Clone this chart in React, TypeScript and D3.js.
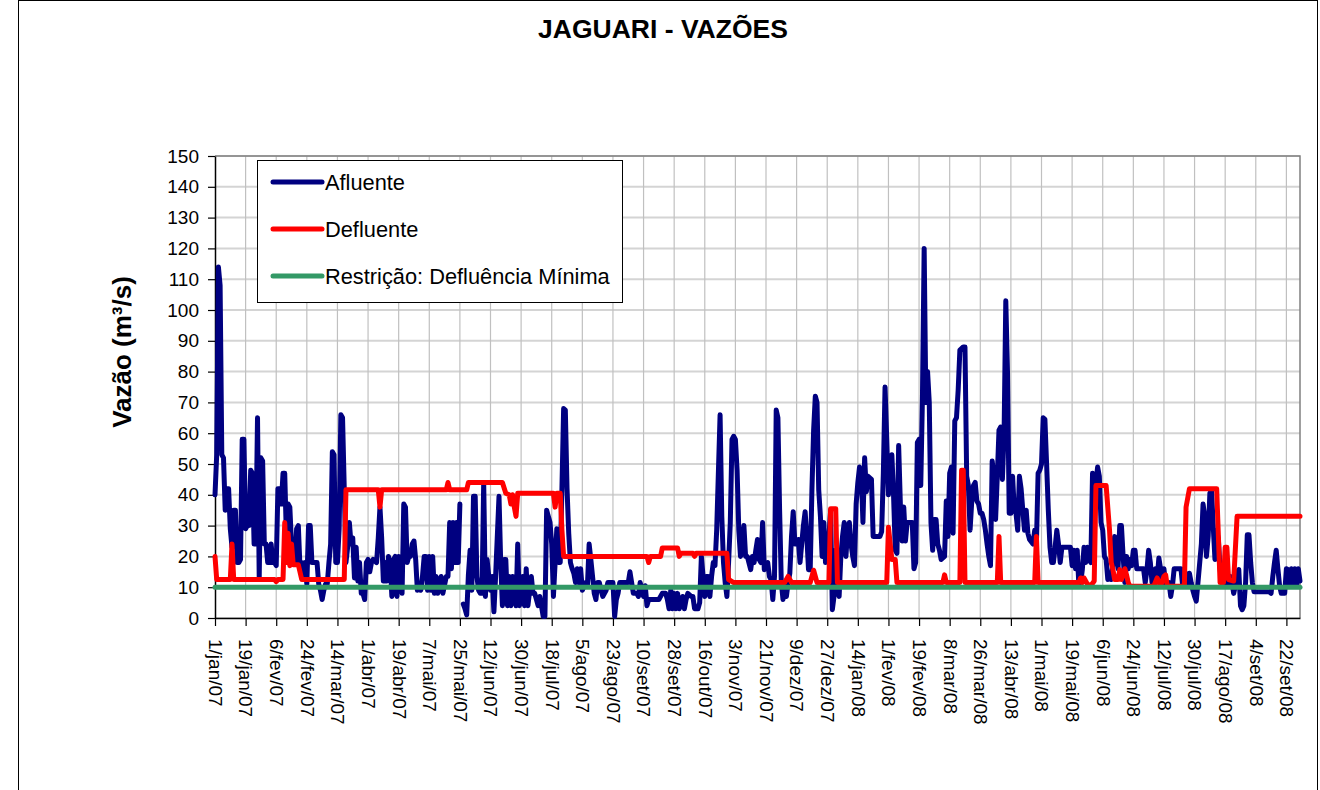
import { useEffect, useRef } from "react";
import { axisBottom, axisLeft, line, range, scaleLinear, scaleTime, select, timeDay } from "d3";

// days counted from 1/jan/2007
const START = new Date(2007, 0, 1);
const LAST_DAY = 638;
const MONTHS = ["jan", "fev", "mar", "abr", "mai", "jun", "jul", "ago", "set", "out", "nov", "dez"];
const Y_TICKS = range(0, 151, 10);
const X_TICK_DAYS = range(0, LAST_DAY - 7, 18);
const MIN_FLOW = 10;

// [day, m3/s] ; null = missing reading
const afluente: [number, number | null][] = [
  [0, 40], [1, 53], [2, 114], [3, 108], [4, 53], [5, 52], [6, 35], [7, 42], [8, 42], [9, 29], [10, 23], [11, 35], [12, 35],
  [13, 18], [14, 18], [15, 19], [16, 58], [17, 58], [18, 29], [19, 30], [20, 30], [21, 48], [22, 47], [23, 24], [24, 24],
  [25, 65], [26, 13], [27, 52], [28, 51], [29, 24], [30, 24], [31, 18], [32, 18], [33, 24], [34, 18], [35, 18], [36, 17],
  [37, 42], [38, 42], [39, 37], [40, 47], [41, 47], [42, 26], [43, 37], [44, 36], [45, 24], [46, 18], [47, 18], [48, 29],
  [49, 30], [50, 16], [51, 18], [52, 13], [53, 18], [54, 11], [55, 30], [56, 30], [57, 18], [60, 18], [61, 11], [62, 9],
  [63, 6], [64, 9], [65, 11], [66, 11], [67, 18], [68, 24], [69, 54], [70, 53], [71, 18], [72, 18], [73, 29], [74, 66],
  [75, 65], [76, 42], [77, 18], [78, 23], [79, 31], [80, 24], [81, 26], [82, 13], [83, 23], [84, 12], [85, 18], [86, 8],
  [87, 8], [88, 6], [89, 18], [90, 19], [91, 15], [92, 18], [93, 19], [95, 18], [96, 26], [97, 36], [98, 26], [99, 12],
  [100, 18], [101, 12], [102, 20], [103, 18], [104, 7], [105, 19], [106, 20], [107, 7], [108, 20], [109, 18], [110, 8],
  [111, 37], [112, 36], [113, 18], [114, 20], [115, 20], [116, 24], [117, 25], [118, 19], [119, 9], [120, 11], [121, 9],
  [122, 13.5], [123, 20], [124, 20], [125, 9], [126, 20], [127, 9], [128, 20], [129, 8], [130, 13.5], [131, 8], [133, 13.5],
  [134, 8], [136, 13.5], [137, 13.5], [138, 31], [139, 16], [140, 31], [141, 18], [142, 31], [143, 18], [144, 37],
  [145, null],
  [146, 4.5], [147, 3], [148, 1], [149, 14], [150, 22], [151, 9], [152, 39.5], [153, 39.5], [154, 13.5], [155, 9], [156, 8],
  [157, 8], [158, 44], [159, 7], [160, 19], [161, 13.5], [162, 9], [163, 13.5], [164, 2], [165, 13.5], [167, 39.5], [168, 18],
  [169, 4], [170, 19], [171, 19], [172, 4], [173, 13.5], [174, 4], [175, 13.5], [177, 4], [178, 24], [179, 4], [180, 8],
  [181, 13.5], [182, 4], [183, 16], [184, 4], [186, 13.5], [187, 8], [188, 8], [190, 4], [191, 7], [193, 0.5], [194, 0.5],
  [195, 35], [196, 33], [197, 31], [198, 24], [199, 7], [200, 18], [201, 29], [202, 18], [203, 18], [204, 42], [205, 68],
  [206, 67.5], [207, 42], [208, 27.5], [209, 18], [210, 16], [211, 14.5], [212, 11.5], [213, 16], [214, 11.5], [215, 16],
  [216, 9], [218, 11.5], [219, 10.5], [220, 24], [221, 19], [223, 8], [224, 6], [225, 11.5], [226, 11.5], [227, 9], [228, 7],
  [230, 9], [231, 11.5], [234, 11.5], [235, 0.5], [236, 6], [237, 8], [238, 11.5], [243, 11.5], [244, 15], [245, 11.5],
  [246, 8], [248, 8], [249, 7], [250, 11.5], [252, 7], [253, 10.5], [254, 4], [255, 6], [261, 6], [263, 8], [265, 8],
  [266, 6], [267, 3], [268, 9], [269, 3], [270, 8], [271, 3], [272, 8], [273, 3], [275, 7], [276, 3], [277, 6], [278, 8],
  [280, 7], [281, 7], [282, 3], [284, 3], [285, 5], [286, 20], [287, 13.5], [288, 7], [289, 13.5], [290, 13.5], [291, 7],
  [292, 13.5], [293, 18], [294, 17], [295, 28.5], [297, 66], [298, 33], [299, 18], [300, 11.5], [301, 7], [302, 18],
  [303, 31], [304, 58], [305, 59], [306, 58], [307, 48], [308, 28.5], [309, 20], [310, 24], [311, 30], [312, 20], [313, 20],
  [315, 15.7], [316, 20], [317, 18], [318, 22], [319, 25.5], [320, 19], [321, 18], [322, 31], [323, 15.7], [325, 18],
  [326, 13.5], [327, 12.5], [328, 6], [329, 13.5], [330, 67.5], [331, 65], [332, 35], [333, 11.5], [334, 6], [335, 11.5],
  [336, 7], [337, 11.5], [338, 14.5], [339, 26.5], [340, 34.5], [341, 24], [342, 24], [343, 25.5], [344, 18], [346, 30],
  [347, 34.5], [348, 26.5], [349, 15.7], [350, 15.7], [351, 41.6], [352, 61], [353, 72], [354, 70], [355, 41.6], [356, 33],
  [357, 20], [358, 31], [359, 18], [360, 20], [361, 26.5], [362, 35], [363, 2.7], [364, 7], [365, 22], [366, 9], [367, 7],
  [368, 20], [369, 26.5], [370, 31], [371, 20], [372, 28.5], [373, 31], [374, 24], [375, 20], [376, 17], [377, 37],
  [378, 44], [379, 49], [380, 47], [381, 31], [382, 52], [383, 41], [384, 46], [386, 45], [387, 26.5], [389, 26.5],
  [391, 26.5], [392, 28], [393, 47], [394, 75], [395, 58], [396, 40], [397, 50], [398, 53], [399, 40], [400, 22], [401, 21],
  [402, 56], [403, 37], [404, 25], [405, 36], [406, 25], [407, 31], [410, 31], [411, 16], [412, 18], [413, 57], [414, 58],
  [415, 43], [416, 72], [417, 120], [418, 70], [419, 80], [420, 70], [421, 31], [422, 22], [423, 32], [424, 32], [425, 24],
  [426, 22], [427, 19], [429, 20], [430, 38], [431, 26.5], [432, 47], [433, 49], [434, 27.5], [435, 64], [436, 65],
  [437, 74], [438, 87], [440, 88], [441, 88], [442, 46], [443, 43], [444, 28.5], [445, 38], [446, 43], [447, 44], [448, 38],
  [449, 37], [450, 34], [451, 34], [452, 32], [453, 28.5], [454, 24], [455, 20], [456, 17], [457, 51], [458, 46], [459, 32],
  [460, 46], [461, 61], [462, 62], [463, 45], [464, 60], [465, 103], [466, 80], [467, 34], [468, 34], [469, 46], [470, 35],
  [471, 34], [472, 28.5], [473, 46], [474, 42], [475, 35], [476, 28.5], [477, 35], [478, 27.5], [479, 25.5], [481, 24],
  [482, 28.5], [483, 24], [484, 47], [485, 48], [486, 50], [487, 65], [488, 64.5], [489, 50], [490, 35], [491, 23],
  [492, 18], [493, 18], [494, 23], [495, 28.5], [496, 24], [497, 18], [498, 23], [503, 23], [504, 17], [505, 22], [506, 16],
  [507, 22], [508, 10.3], [509, 11.4], [510, 15.7], [511, 23], [512, 18], [513, 23], [514, 19], [515, 18], [516, 47],
  [517, 46], [518, 44], [519, 49], [520, 46], [521, 31], [522, 28.5], [523, 20], [524, 19], [525, 12.5], [526, 14.5],
  [527, 12.5], [528, 18], [529, 26.5], [530, 20], [531, 16], [532, 30], [533, 30], [534, 20], [535, 11.5], [536, 20],
  [537, 16], [538, 19], [539, 17], [540, 22], [541, 22], [542, 16], [546, 16], [547, 11.5], [548, 15.7], [549, 22], [550, 18],
  [551, 11.5], [553, 16], [554, 12.5], [555, 19.5], [556, 16], [557, 12.5], [558, 16], [559, 10.5], [560, 11.5], [561, 11.5],
  [562, 7], [563, 10.5], [564, 16], [568, 16], [569, 10.5], [570, 11.5], [571, 14.5], [572, 10.5], [573, 14.5], [574, 11.5],
  [575, 9], [576, 7], [577, 5.5], [578, 11.5], [580, 24], [581, 37], [582, 33], [583, 20], [584, 26.5], [585, 40.5],
  [586, 41.5], [587, 29.5], [588, 19], [589, 28.5], [590, 25.5], [591, 16], [592, 11.5], [593, 10.5], [594, 14.5],
  [595, 11.5], [596, 10.5], [597, 13.5], [598, 11.5], [599, 8], [600, 10.5], [601, 14.5], [602, 15.7], [603, 4], [604, 2.7],
  [605, 4], [606, 11.5], [607, 27], [608, 27], [609, 18], [610, 11.5], [611, 8.5], [620, 8.5], [621, 8], [622, 13.5],
  [623, 18], [624, 22], [625, 16], [626, 10.5], [627, 8], [629, 8], [630, 16], [631, 15.7], [632, 10.5], [633, 16],
  [634, 10.5], [635, 16], [636, 10.5], [637, 16], [638, 12],
];

const defluente: [number, number][] = [
  [0, 20], [1, 12.5], [9, 12.5], [10, 24], [11, 12.5], [35, 12.5], [36, 11.8], [37, 12.5], [40, 12.5], [41, 31], [42, 18],
  [43, 27.5], [44, 17], [45, 24], [46, 17.3], [49, 17.3], [51, 12.5], [76, 12.5], [77, 41.6], [96, 41.6], [97, 36],
  [98, 41.6], [136, 41.6], [137, 44], [138, 41.6], [148, 41.6], [149, 44], [169, 44], [171, 40.5], [173, 40], [174, 37],
  [175, 40], [176, 36], [177, 33], [178, 40.5], [199, 40.5], [200, 36], [201, 40.5], [203, 40.5], [204, 28.5], [205, 20],
  [254, 20], [255, 18], [256, 20], [262, 20], [263, 22.7], [272, 22.7], [273, 20], [274, 21], [281, 21], [282, 20],
  [283, 21], [301, 21], [302, 12.5], [305, 11.5], [335, 11.5], [337, 13.5], [339, 11.5], [350, 11.5], [352, 15.5],
  [354, 11.5], [361, 11.5], [362, 35.5], [365, 35.5], [366, 11.5], [395, 11.5], [396, 29.5], [398, 19], [400, 19],
  [401, 11.5], [428, 11.5], [429, 14], [430, 11.5], [438, 11.5], [439, 48], [440, 48], [441, 11.5], [460, 11.5],
  [461, 26.5], [462, 11.5], [482, 11.5], [483, 26.5], [484, 11.5], [508, 11.5], [509, 13], [510, 11.5], [511, 13],
  [513, 11], [515, 10.5], [517, 12], [518, 43], [524, 43], [526, 28.5], [527, 18], [528, 15.7], [529, 12.5], [531, 12.5],
  [532, 15.7], [533, 12.5], [535, 16], [536, 14], [537, 11.5], [538, 10.3], [552, 10.3], [554, 13], [556, 10.3], [558, 13.5],
  [559, 14], [560, 10.3], [570, 10.3], [571, 36], [573, 42], [589, 42], [591, 11.5], [593, 11.5], [594, 23], [595, 23],
  [596, 12.5], [599, 12], [601, 33], [638, 33],
];

const restricao: [number, number][] = [[0, MIN_FLOW], [LAST_DAY, MIN_FLOW]];

const SERIES = [
  { name: "Afluente", color: "#000080", data: afluente },
  { name: "Defluente", color: "#ff0000", data: defluente },
  { name: "Restrição: Defluência Mínima", color: "#339966", data: restricao },
];

const FONT = "'Liberation Sans', Arial, sans-serif";

const dayToDate = (d: number) => timeDay.offset(START, d);
const fmtDate = (d: Date) => `${d.getDate()}/${MONTHS[d.getMonth()]}/${String(d.getFullYear()).slice(2)}`;

export default function App() {
  const width = 1320;
  const height = 790;
  const marginLeft = 215;
  const marginRight = 20;
  const marginTop = 156;
  const marginBottom = 172;
  const plotRight = width - marginRight;
  const plotBottom = height - marginBottom;

  const gx = useRef<SVGGElement>(null);
  const gy = useRef<SVGGElement>(null);

  const x = scaleTime([START, dayToDate(LAST_DAY)], [marginLeft, plotRight]);
  const y = scaleLinear([0, 150], [plotBottom, marginTop]);
  const xTicks = X_TICK_DAYS.map(dayToDate);

  const path = line<[number, number | null]>()
    .defined((d) => d[1] != null)
    .x((d) => x(dayToDate(d[0])))
    .y((d) => y(d[1] as number));

  useEffect(() => {
    const g = select(gx.current!);
    g.call(axisBottom(x).tickValues(xTicks).tickFormat((d) => fmtDate(d as Date)).tickSize(8).tickSizeOuter(0) as any);
    g.select(".domain").attr("stroke", "#000").attr("stroke-width", 1.5);
    g.selectAll(".tick line").attr("stroke", "#000").attr("stroke-width", 1.2);
    g.selectAll(".tick text")
      .attr("x", 0)
      .attr("y", 0)
      .attr("dy", "0.35em")
      .attr("transform", "translate(0,21) rotate(90)")
      .style("text-anchor", "start")
      .style("font-family", FONT)
      .style("font-size", "19px")
      .attr("fill", "#000");
  }, [x]);

  useEffect(() => {
    const g = select(gy.current!);
    g.call(axisLeft(y).tickValues(Y_TICKS).tickSize(7).tickPadding(9).tickSizeOuter(0) as any);
    g.select(".domain").attr("stroke", "#000").attr("stroke-width", 1.5);
    g.selectAll(".tick line").attr("stroke", "#000").attr("stroke-width", 1.2);
    g.selectAll(".tick text").style("font-family", FONT).style("font-size", "19px").attr("fill", "#000");
  }, [y]);

  return (
    <svg width={width} height={height} style={{ position: "absolute", left: 0, top: 0, background: "#fff" }}>
      <rect x={18.5} y={0.5} width={1299} height={height + 10} fill="#fff" stroke="#000" />
      <text x={663} y={38} textAnchor="middle" fontFamily={FONT} fontWeight="bold" fontSize={26.5}>
        JAGUARI - VAZÕES
      </text>
      <text
        transform={`translate(131,${352}) rotate(-90)`}
        textAnchor="middle"
        fontFamily={FONT}
        fontWeight="bold"
        fontSize={26}
      >
        Vazão (m³/s)
      </text>

      {Y_TICKS.map((t) => (
        <line key={"h" + t} x1={marginLeft} x2={plotRight} y1={y(t)} y2={y(t)} stroke="#d4d4d4" strokeWidth={2} />
      ))}
      {xTicks.slice(1).map((t, i) => (
        <line key={"v" + i} x1={x(t)} x2={x(t)} y1={marginTop} y2={plotBottom} stroke="#c0c0c0" strokeWidth={1.2} />
      ))}
      <path
        d={`M${marginLeft},${marginTop}H${plotRight}V${plotBottom}`}
        fill="none"
        stroke="#808080"
        strokeWidth={1.5}
      />

      <g ref={gx} transform={`translate(0,${plotBottom})`} />
      <g ref={gy} transform={`translate(${marginLeft},0)`} />

      {SERIES.map((s) => (
        <path
          key={s.name}
          d={path(s.data as [number, number | null][]) ?? ""}
          fill="none"
          stroke={s.color}
          strokeWidth={5}
          strokeLinejoin="round"
          strokeLinecap="round"
        />
      ))}

      <g transform="translate(257,160)">
        <rect x={0.5} y={0.5} width={365} height={142} fill="#fff" stroke="#000" />
        {SERIES.map((s, i) => (
          <g key={s.name} transform={`translate(0,${22 + i * 47})`}>
            <line x1={16} x2={65} stroke={s.color} strokeWidth={5} strokeLinecap="round" />
            <text x={68} dy="0.35em" fontFamily={FONT} fontSize={21.8}>
              {s.name}
            </text>
          </g>
        ))}
      </g>
    </svg>
  );
}
